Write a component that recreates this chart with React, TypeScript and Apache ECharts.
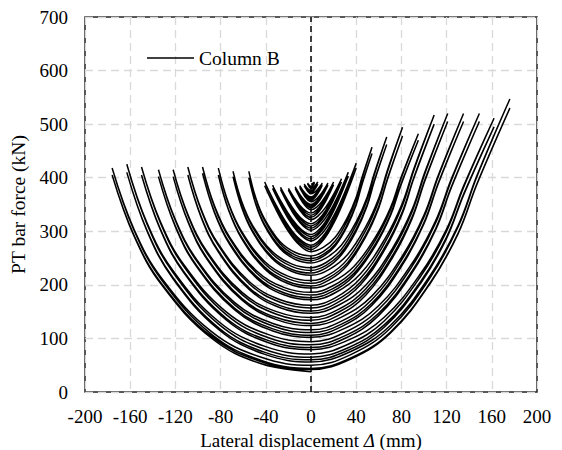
import React, { useEffect, useRef } from "react";
import * as echarts from "echarts";

// Axis ticks
const xTicks = [-200, -160, -120, -80, -40, 0, 40, 80, 120, 160, 200];
const yTicks = [0, 100, 200, 300, 400, 500, 600, 700];

// Per-cycle readings (two cycles per amplitude level)
const ampRight = [3, 3, 6, 6, 10, 10, 15, 15, 20, 20, 27, 27, 33, 33, 40, 40, 54, 54, 67, 67, 81, 81, 95, 95, 109, 109, 121, 121, 135, 135, 149, 149, 162, 162, 176, 176];
const ampLeft = [3, 3, 6, 6, 10, 10, 14, 14, 20, 20, 27, 27, 34, 34, 41, 41, 55, 55, 69, 69, 82, 82, 96, 96, 109, 109, 122, 122, 135, 135, 150, 150, 163, 163, 176, 176];
const peakRight = [392, 390, 392, 388, 390, 386, 390, 386, 392, 387, 398, 392, 410, 403, 427, 418, 457, 445, 476, 462, 494, 478, 482, 470, 517, 500, 520, 505, 520, 505, 520, 505, 511, 495, 547, 530];
const peakLeft = [390, 389, 388, 385, 385, 382, 383, 380, 380, 377, 382, 378, 386, 380, 392, 385, 412, 400, 412, 402, 418, 405, 420, 408, 420, 405, 415, 402, 415, 402, 420, 405, 425, 410, 418, 405];
const zeroAfterRight = [384, 382, 376, 372, 364, 358, 350, 344, 334, 326, 314, 306, 294, 286, 274, 266, 254, 245, 232, 222, 208, 198, 186, 176, 162, 151, 139, 128, 116, 106, 94, 83, 71, 60, 50, 42];
const zeroAfterLeft = [383, 380, 374, 370, 361, 355, 347, 340, 330, 322, 310, 302, 290, 282, 270, 262, 249, 241, 227, 218, 203, 194, 181, 172, 157, 147, 134, 124, 111, 102, 88, 79, 65, 56, 44, 38];
const startForce = 388;
const smallLoopCount = 16; // cycles with amplitude <= 41 mm use the sharper V shape

// Branch shapes (fraction of amplitude -> fraction of force rise)
const vShapeS = [0, 0.25, 0.5, 0.75, 1];
const vShapeF = [0, 0.1, 0.32, 0.63, 1];
const rightShapeS = [0, 0.2, 0.4, 0.6, 0.74, 0.835, 1];
const rightShapeF = [0, 0.04, 0.14, 0.33, 0.52, 0.71, 1];
const leftShapeS = [0, 0.25, 0.5, 0.75, 0.89, 1];
const leftShapeF = [0, 0.04, 0.17, 0.44, 0.69, 1];

function buildPath(): number[][] {
  const pts: number[][] = [[0, startForce]];
  let f0 = startForce;
  for (let i = 0; i < ampRight.length; i++) {
    const Ar = ampRight[i];
    const Al = ampLeft[i];
    const Fr = peakRight[i];
    const Fl = peakLeft[i];
    const zR = zeroAfterRight[i];
    const zL = zeroAfterLeft[i];
    const small = i < smallLoopCount;
    const rS = small ? vShapeS : rightShapeS;
    const rF = small ? vShapeF : rightShapeF;
    const lS = small ? vShapeS : leftShapeS;
    const lF = small ? vShapeF : leftShapeF;
    for (let k = 1; k < rS.length; k++) pts.push([rS[k] * Ar, f0 + rF[k] * (Fr - f0)]);
    for (let k = rS.length - 2; k >= 0; k--) pts.push([rS[k] * Ar, zR + rF[k] * (Fr - zR)]);
    for (let k = 1; k < lS.length; k++) pts.push([-lS[k] * Al, zR + lF[k] * (Fl - zR)]);
    for (let k = lS.length - 2; k >= 0; k--) pts.push([-lS[k] * Al, zL + lF[k] * (Fl - zL)]);
    f0 = zL;
  }
  return pts;
}

const FONT = "Times New Roman, Liberation Serif, DejaVu Serif, serif";

export default function App() {
  const ref = useRef<HTMLDivElement>(null);
  useEffect(() => {
    if (!ref.current) return;
    const chart = echarts.init(ref.current, null, { renderer: "svg" });
    chart.setOption({
      animation: false,
      backgroundColor: "#fff",
      textStyle: { fontFamily: FONT },
      grid: {
        left: 85,
        right: 25,
        top: 17,
        bottom: 58,
        containLabel: false,
        outerBoundsMode: "none",
        show: true,
        borderColor: "#222",
        borderWidth: 1.5,
        backgroundColor: "transparent",
      },
      legend: {
        left: 142,
        top: 43,
        itemWidth: 47,
        itemHeight: 14,
        itemGap: 6,
        textStyle: { fontFamily: FONT, fontSize: 19.5, color: "#000" },
        data: [{ name: "Column B", icon: "path://M0,6L47,6L47,7.5L0,7.5Z" }],
      },
      xAxis: {
        type: "value",
        min: xTicks[0],
        max: xTicks[xTicks.length - 1],
        interval: 40,
        name: "Lateral displacement {it|Δ} (mm)",
        nameLocation: "middle",
        nameGap: 31,
        nameTextStyle: {
          fontFamily: FONT,
          fontSize: 19,
          color: "#000",
          rich: { it: { fontFamily: FONT, fontSize: 19, fontStyle: "italic", color: "#000" } },
        },
        axisLine: { show: false },
        axisTick: { show: false },
        axisLabel: { color: "#000", fontSize: 19, fontFamily: FONT, margin: 15 },
        splitLine: { show: true, lineStyle: { color: "#d9d9d9", type: [8, 5], width: 1.3 } },
      },
      yAxis: {
        type: "value",
        min: yTicks[0],
        max: yTicks[yTicks.length - 1],
        interval: 100,
        name: "PT bar force (kN)",
        nameLocation: "middle",
        nameGap: 55,
        nameTextStyle: { fontFamily: FONT, fontSize: 19.5, color: "#000" },
        axisLine: { show: false },
        axisTick: { show: false },
        axisLabel: { color: "#000", fontSize: 19, fontFamily: FONT, margin: 17 },
        splitLine: { show: true, lineStyle: { color: "#d9d9d9", type: [8, 5], width: 1.3 } },
      },
      series: [
        {
          name: "Column B",
          type: "line",
          data: buildPath(),
          symbol: "none",
          showSymbol: false,
          smooth: 0.4,
          lineStyle: { color: "#000", width: 1.5 },
          itemStyle: { color: "#000" },
          silent: true,
          markLine: {
            silent: true,
            symbol: ["none", "none"],
            label: { show: false },
            lineStyle: { color: "#000", type: [6, 4], width: 1.5 },
            data: [{ xAxis: 0 }],
          },
        },
      ],
    });
    return () => chart.dispose();
  }, []);
  return (
    <div
      ref={ref}
      style={{ position: "absolute", left: 0, top: 0, width: 562, height: 450 }}
    />
  );
}
